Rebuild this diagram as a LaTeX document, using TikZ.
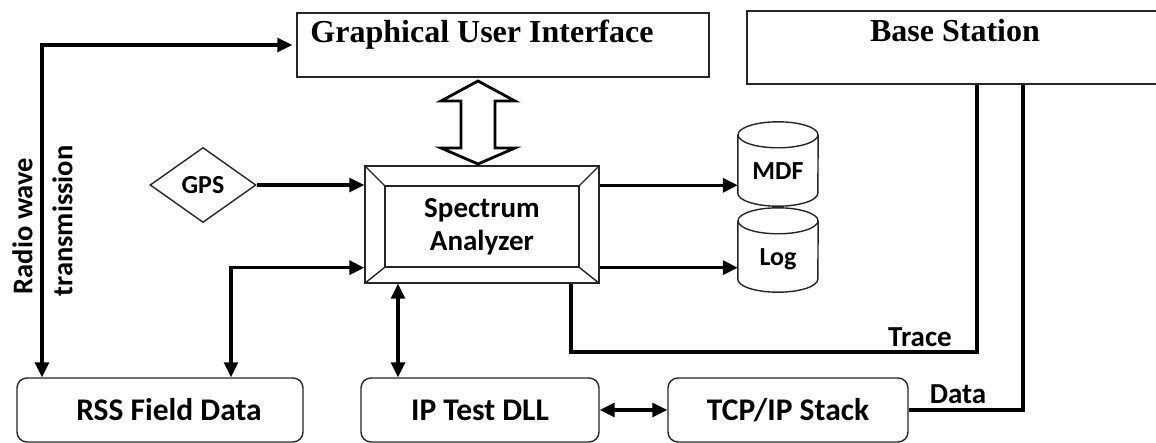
\documentclass[tikz,border=0pt]{standalone}
\usepackage{fontspec}
\setmainfont{Liberation Serif}
\newfontfamily\calib{Carlito}
\usetikzlibrary{arrows.meta,shapes.geometric,calc}
\begin{document}
\begin{tikzpicture}[x=1pt,y=-1pt,
  thinbox/.style={draw=black!85, line width=1.4pt},
  calfont/.style={font=\calib\bfseries\fontsize{29}{33}\selectfont},
  boxfont/.style={font=\calib\bfseries\fontsize{31.5}{35}\selectfont},
  vertfont/.style={font=\calib\bfseries\fontsize{28.5}{33}\selectfont},
  smallfont/.style={font=\calib\bfseries\fontsize{26}{30}\selectfont},
  serfont/.style={font=\bfseries\fontsize{32}{36}\selectfont},
  rbox/.style={thinbox, rounded corners=10pt, minimum width=#1, minimum height=64pt, inner sep=0pt, boxfont},
  dbcyl/.style={minimum width=80pt, minimum height=84pt, inner sep=0pt, text height=32pt, text depth=0pt, smallfont},
  conn/.style={line width=3.1pt},
  arr/.style={conn, -{Triangle[length=15pt,width=14pt]}},
  arrs/.style={conn, {Triangle[length=15pt,width=14pt]}-{Triangle[length=15pt,width=14pt]}}
]
\useasboundingbox (0,0) rectangle (1156,443);
\clip (0,0) rectangle (1156,443);

% top boxes
\node[thinbox, minimum width=412pt, minimum height=64pt, inner sep=0pt] (gui) at (503,45) {};
\node[serfont, anchor=base] (guit) at (482,43) {Graphical User Interface};
\node[thinbox, minimum width=430pt, minimum height=73pt, inner sep=0pt] (bs) at (962,47.5) {};
\node[serfont, anchor=base] (bst) at (955,42) {Base Station};

% spectrum analyzer
\node[thinbox, minimum width=234pt, minimum height=117pt, inner sep=0pt] (sa) at (482,224.5) {};
\node[thinbox, minimum width=194pt, minimum height=81pt, inner sep=0pt, align=center, calfont] (sai) at (482,226.5) {Spectrum\\Analyzer};
\foreach \c in {north west, north east, south west, south east}
  \draw[thinbox] (sa.\c) -- (sai.\c);

% GPS
\node[diamond, thinbox, minimum width=106pt, minimum height=75pt, inner sep=0pt, smallfont] (gps) at (203,185) {GPS};

% databases
\node[dbcyl] (mdf) at (778,164) {MDF};
\node[dbcyl] (log) at (778,250) {Log};
\foreach \n in {mdf,log}{
  \draw[thinbox] ([yshift=-13pt]\n.north west) -- ([yshift=13pt]\n.south west)
    arc[start angle=180, end angle=360, x radius=40pt, y radius=13pt]
    -- ([yshift=-13pt]\n.north east);
  \draw[thinbox] ([yshift=-13pt]\n.north) ellipse[x radius=40pt, y radius=13pt];
}

% bottom boxes
\node[rbox=286pt] (rss) at (160,410) {\hspace*{18pt}RSS Field Data};
\node[rbox=238pt] (ip) at (480,410) {IP Test DLL};
\node[rbox=240pt] (tcp) at (788,410) {TCP/IP Stack};

% radio wave labels
\node[vertfont, rotate=90] (radio) at (22.5,226) {Radio wave};
\node[vertfont, rotate=90] (trans) at (62.5,221) {transmission};

% helper coordinates
\coordinate (rx) at (42,47);
\coordinate (fx) at (231,0);
\coordinate (ipx) at (398,0);
\coordinate (tr) at (571,352);
\coordinate (b1) at (977,0);
\coordinate (b2) at (1023,0);

% connectors
\draw[arrs, shorten >=4pt] (rss.north -| rx) |- (gui.west);
\draw[arr] (gps.east) -- (sa.west |- gps.east);
\draw[arrs] (sa.west |- sai.south) -| (rss.north -| fx);
\draw[arr] (sa.east |- sai.north) -- (mdf.west |- sai.north);
\draw[arr] (sa.east |- sai.south) -- (log.west |- sai.south);
\draw[arrs] (sa.south -| ipx) -- (ip.north -| ipx);
\draw[arrs] (ip.east) -- (tcp.west);
\draw[conn] (sa.south -| tr) -- (tr) -| (bs.south -| b1);
\draw[conn] (tcp.east) -| (bs.south -| b2);
\node[calfont, anchor=base] (trace) at (920,347) {Trace};
\node[calfont, anchor=base] (data) at (958,403) {Data};

% hollow double arrow between GUI and analyzer
\draw[line width=2.8pt, line join=miter] (478,81) -- (515,101) -- (495,101) -- (495,148) -- (515,148) -- (478,164)
  -- (441,148) -- (461,148) -- (461,101) -- (441,101) -- cycle;
\end{tikzpicture}
\end{document}
